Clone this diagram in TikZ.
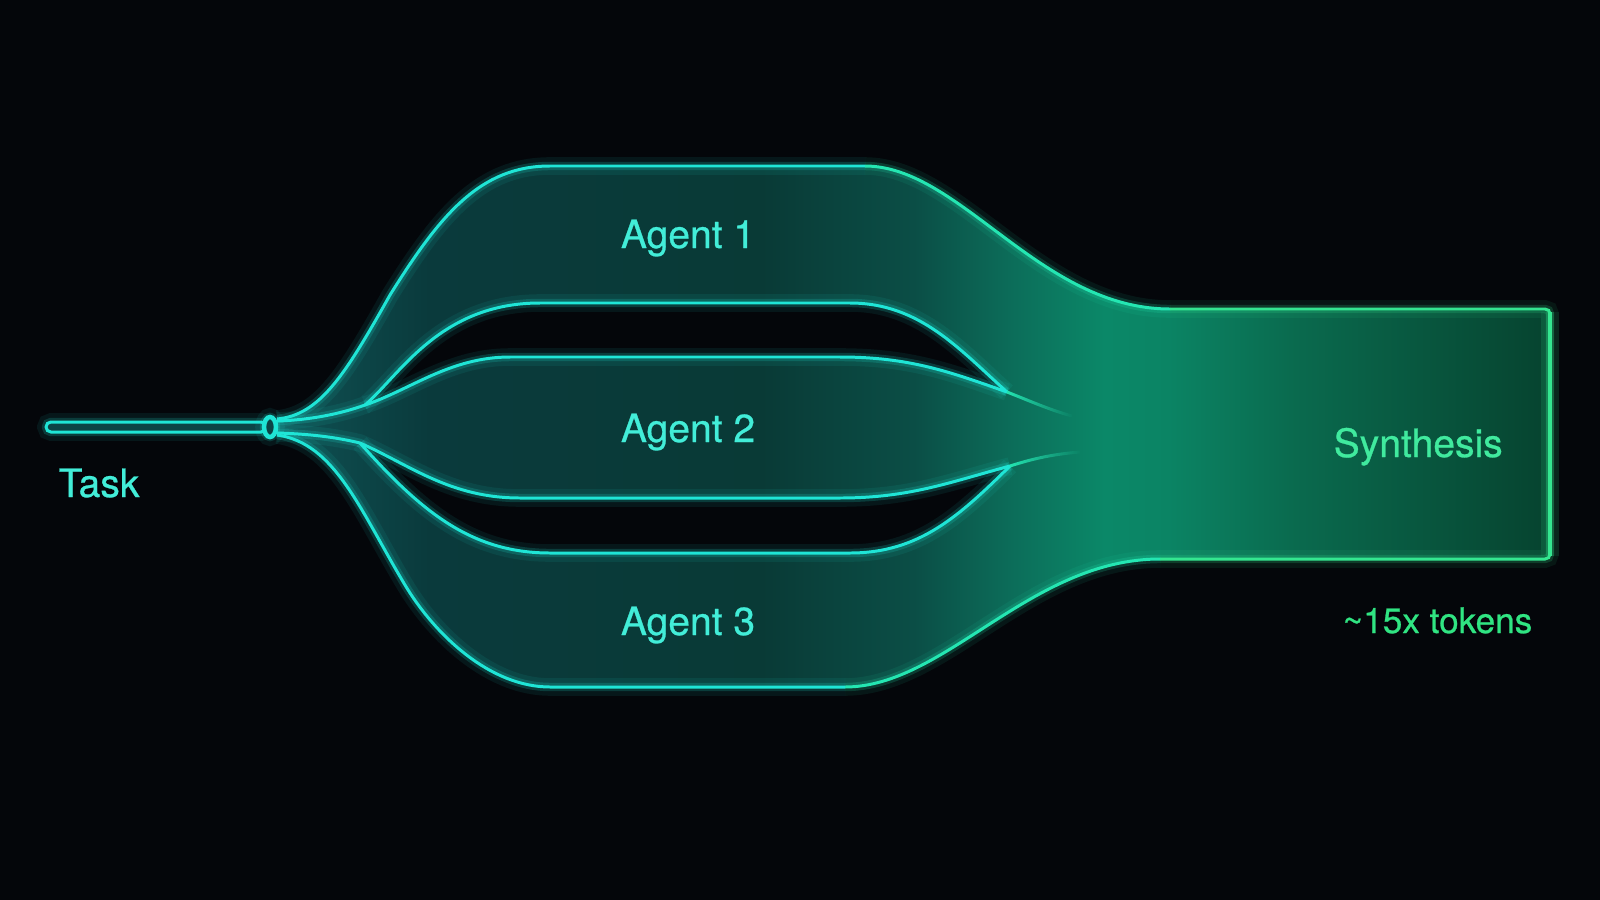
\documentclass[tikz,border=0pt]{standalone}
\usepackage{fontspec}
\setmainfont{TeX Gyre Heros}[FakeBold=0.7]
\usetikzlibrary{fadings}

\definecolor{bgcol}{HTML}{04060A}
\definecolor{cyanline}{HTML}{1FE5D6}
\definecolor{mintline}{HTML}{24E6B2}
\definecolor{greenline}{HTML}{34E690}
\definecolor{agentcol}{HTML}{42EDD8}
\definecolor{synthcol}{HTML}{40EA9E}
\definecolor{tokencol}{HTML}{30E482}
\definecolor{tubefill}{HTML}{0C4446}
\definecolor{fillA}{HTML}{0F5254}
\definecolor{fillB}{HTML}{0A3A3C}
\definecolor{fillC}{HTML}{093A36}
\definecolor{fillD}{HTML}{0B4E46}
\definecolor{fillE}{HTML}{0C6E5A}
\definecolor{fillF}{HTML}{0B8868}
\definecolor{fillG}{HTML}{0B8464}
\definecolor{fillH}{HTML}{0A6A4E}
\definecolor{fillI}{HTML}{06432F}

\pgfdeclarehorizontalshading{flowshade}{100bp}{color(0bp)=(fillA); color(25bp)=(fillA); color(31bp)=(fillB); color(44bp)=(fillC); color(50bp)=(fillD); color(54bp)=(fillE); color(57.5bp)=(fillF); color(60bp)=(fillG); color(65bp)=(fillH); color(75bp)=(fillI); color(100bp)=(fillI)}

\begin{document}
\begin{tikzpicture}[x=0.01cm,y=-0.01cm,
  glow/.style={preaction={draw=#1,line width=5pt,opacity=0.08},
               preaction={draw=#1,line width=2.4pt,opacity=0.18},
               draw=#1,line width=0.85pt},
  lbl/.style={anchor=base,inner sep=0pt,font=\fontsize{11.1}{13}\selectfont}]
\fill[bgcol] (0,0) rectangle (1600,900);
\useasboundingbox (0,0) rectangle (1600,900);

\coordinate (hub) at (270,427);
\coordinate (tipA) at (365,405);
\coordinate (tipB) at (1007,392);
\coordinate (tipC) at (360,443);
\coordinate (tipD) at (1010,466);

\shade[shading=flowshade] (277,419) .. controls (320,415) and (345,375) .. (390,295)
  .. controls (440,215) and (480,166) .. (550,166) -- (865,166)
  .. controls (960,166) and (1040,309) .. (1170,309) -- (1545,309)
  .. controls (1548,309) and (1550,311) .. (1550,314) -- (1550,554)
  .. controls (1550,557) and (1548,559) .. (1545,559) -- (1160,559)
  .. controls (1030,559) and (945,687) .. (845,687) -- (550,687)
  .. controls (490,687) and (435,635) .. (405,585)
  .. controls (360,510) and (335,443) .. (277,435) -- cycle;

\fill[bgcol] (tipA) .. controls (400,375) and (440,303) .. (540,303) -- (850,303)
  .. controls (920,303) and (960,350) .. (tipB)
  .. controls (950,372) and (910,357) .. (840,357) -- (510,357)
  .. controls (450,357) and (410,390) .. (tipA) -- cycle;
\fill[bgcol] (tipC) .. controls (410,465) and (450,498) .. (520,498) -- (840,498)
  .. controls (910,498) and (950,482) .. (tipD)
  .. controls (960,515) and (920,553) .. (850,553) -- (550,553)
  .. controls (470,553) and (420,510) .. (tipC) -- cycle;

\draw[glow=cyanline] (277,419) .. controls (320,415) and (345,375) .. (390,295)
  .. controls (440,215) and (480,166) .. (550,166) -- (865,166);
\draw[glow=mintline] (865,166) .. controls (960,166) and (1040,309) .. (1170,309);
\draw[glow=greenline] (1170,309) -- (1545,309)
  .. controls (1548,309) and (1550,311) .. (1550,314) -- (1550,554)
  .. controls (1550,557) and (1548,559) .. (1545,559) -- (1160,559);
\draw[glow=greenline,line width=1.4pt] (1550,312) -- (1550,556);
\draw[glow=mintline] (1160,559) .. controls (1030,559) and (945,687) .. (845,687);
\draw[glow=cyanline] (845,687) -- (550,687)
  .. controls (490,687) and (435,635) .. (405,585)
  .. controls (360,510) and (335,443) .. (277,435);

\draw[glow=cyanline] (277,421) .. controls (310,420) and (340,414) .. (tipA)
  .. controls (400,375) and (440,303) .. (540,303) -- (850,303)
  .. controls (920,303) and (960,350) .. (tipB);
\draw[glow=cyanline] (tipA) .. controls (410,390) and (450,357) .. (510,357) -- (840,357)
  .. controls (910,357) and (950,372) .. (tipB);
\draw[mintline,line width=0.85pt,path fading=east] (tipB) .. controls (1030,401) and (1050,410) .. (1072,416);

\draw[glow=cyanline] (277,433) .. controls (310,434) and (335,437) .. (tipC)
  .. controls (410,465) and (450,498) .. (520,498) -- (840,498)
  .. controls (910,498) and (950,482) .. (tipD);
\draw[glow=cyanline] (tipC) .. controls (420,510) and (470,553) .. (550,553) -- (850,553)
  .. controls (920,553) and (960,515) .. (tipD);
\draw[mintline,line width=0.85pt,path fading=east] (tipD) .. controls (1035,458) and (1055,454) .. (1080,452);

\draw[glow=cyanline,fill=tubefill,rounded corners=1.4pt] (46,422) rectangle (266,432);
\draw[glow=cyanline,line width=1.3pt,fill=tubefill] (hub) ellipse [x radius=0.06cm,y radius=0.1cm];

\node[lbl,text=agentcol] (agent1) at (688,248) {Agent 1};
\node[lbl,text=agentcol] (agent2) at (688,442) {Agent 2};
\node[lbl,text=agentcol] (agent3) at (688,635) {Agent 3};
\node[lbl,text=agentcol,anchor=base west] (task) at (58,497) {Task};
\node[lbl,text=synthcol,anchor=base west] (synth) at (1333,457) {Synthesis};
\node[lbl,text=tokencol,anchor=base west,font=\fontsize{10}{12}\selectfont] (tokens) at (1342,633) {\textasciitilde 15x tokens};
\end{tikzpicture}
\end{document}
